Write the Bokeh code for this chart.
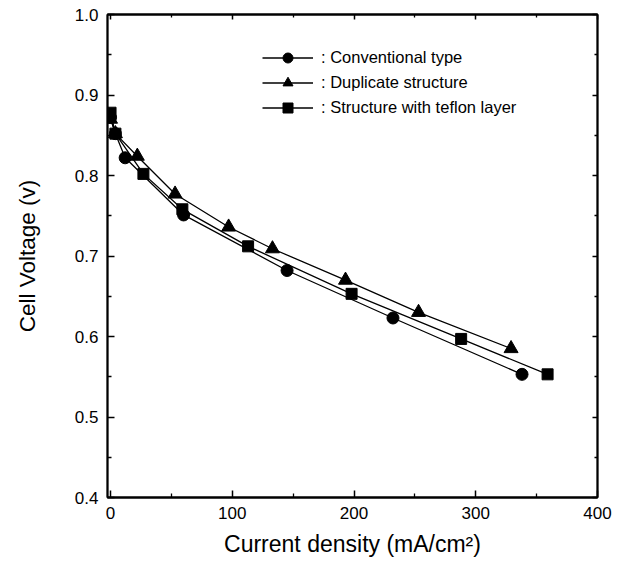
from bokeh.plotting import figure
from bokeh.models import (LinearAxis, Range1d, Legend, LegendItem, FixedTicker,
                          PrintfTickFormatter, CustomJSTickFormatter)
from bokeh.embed import file_html
from bokeh.resources import INLINE

# Data
conv_x = [0, 4, 12, 60, 145, 232, 338]
conv_y = [0.872, 0.852, 0.822, 0.751, 0.682, 0.623, 0.553]

dup_x = [0, 4, 22, 53, 97, 133, 193, 253, 329]
dup_y = [0.870, 0.852, 0.824, 0.777, 0.736, 0.709, 0.670, 0.630, 0.585]

tef_x = [0, 4, 27, 59, 113, 198, 288, 359]
tef_y = [0.878, 0.852, 0.802, 0.758, 0.712, 0.653, 0.597, 0.553]

labels = [": Conventional type", ": Duplicate structure", ": Structure with teflon layer"]
x_ticks = [0, 100, 200, 300, 400]
x_minor = [50, 150, 250, 350]
y_ticks = [0.4, 0.5, 0.6, 0.7, 0.8, 0.9, 1.0]
y_minor = [0.45, 0.55, 0.65, 0.75, 0.85, 0.95]

FONT = "Liberation Sans"

p = figure(width=632, height=566, output_backend="svg", toolbar_location=None,
           x_range=Range1d(-2.5, 400), y_range=Range1d(0.4, 1.0),
           min_border_left=107, min_border_right=35, min_border_top=14, min_border_bottom=69)
p.grid.visible = False
p.outline_line_color = "black"
p.outline_line_width = 1.8
p.background_fill_color = "white"
p.border_fill_color = "white"


def style_axis(ax):
    ax.axis_line_width = 1.8
    ax.axis_line_color = "black"
    ax.major_tick_in = 7
    ax.major_tick_out = 0
    ax.minor_tick_in = 4
    ax.minor_tick_out = 0
    ax.major_tick_line_width = 1.5
    ax.minor_tick_line_width = 1.3
    ax.major_tick_line_color = "black"
    ax.minor_tick_line_color = "black"
    ax.major_label_text_font = FONT
    ax.major_label_text_font_size = "17px"
    ax.major_label_text_color = "black"


p.xaxis.ticker = FixedTicker(ticks=x_ticks, minor_ticks=x_minor)
p.yaxis.ticker = FixedTicker(ticks=y_ticks, minor_ticks=y_minor)
p.yaxis.formatter = PrintfTickFormatter(format="%.1f")
style_axis(p.xaxis[0])
style_axis(p.yaxis[0])
p.xaxis[0].major_label_standoff = 9
p.yaxis[0].major_label_standoff = 9
p.xaxis[0].axis_label = "Current density (mA/cm\u00b2)"
p.yaxis[0].axis_label = "Cell Voltage (v)"
for ax in (p.xaxis[0], p.yaxis[0]):
    ax.axis_label_text_font = FONT
    ax.axis_label_text_font_style = "normal"
    ax.axis_label_text_color = "black"
p.xaxis[0].axis_label_text_font_size = "23px"
p.yaxis[0].axis_label_text_font_size = "22.5px"
p.xaxis[0].axis_label_standoff = 9
p.yaxis[0].axis_label_standoff = 32

blank = CustomJSTickFormatter(code="return ''")
top = LinearAxis(ticker=FixedTicker(ticks=x_ticks, minor_ticks=x_minor), formatter=blank)
right = LinearAxis(ticker=FixedTicker(ticks=y_ticks, minor_ticks=y_minor), formatter=blank)
for ax in (top, right):
    style_axis(ax)
    ax.major_tick_in = 5
    ax.minor_tick_in = 3
    ax.major_label_standoff = 0
p.add_layout(top, "above")
p.add_layout(right, "right")

series = [(conv_x, conv_y, "circle", 12), (dup_x, dup_y, "triangle", 14), (tef_x, tef_y, "square", 11)]
items = []
for (xs, ys, m, s), lab in zip(series, labels):
    ln = p.line(xs, ys, line_color="black", line_width=1.3)
    sc = p.scatter(xs, ys, marker=m, size=s, fill_color="black", line_color="black")
    items.append(LegendItem(label=lab, renderers=[ln, sc]))

legend = Legend(items=items, location=(155, 377))
legend.background_fill_alpha = 0
legend.border_line_alpha = 0
legend.label_text_font = FONT
legend.label_text_font_size = "16.5px"
legend.label_text_color = "black"
legend.glyph_width = 51
legend.glyph_height = 25
legend.label_height = 25
legend.spacing = 0
legend.padding = 0
legend.margin = 0
legend.label_standoff = 8
p.add_layout(legend, "center")

open("out.html", "w").write(file_html(p, INLINE))
